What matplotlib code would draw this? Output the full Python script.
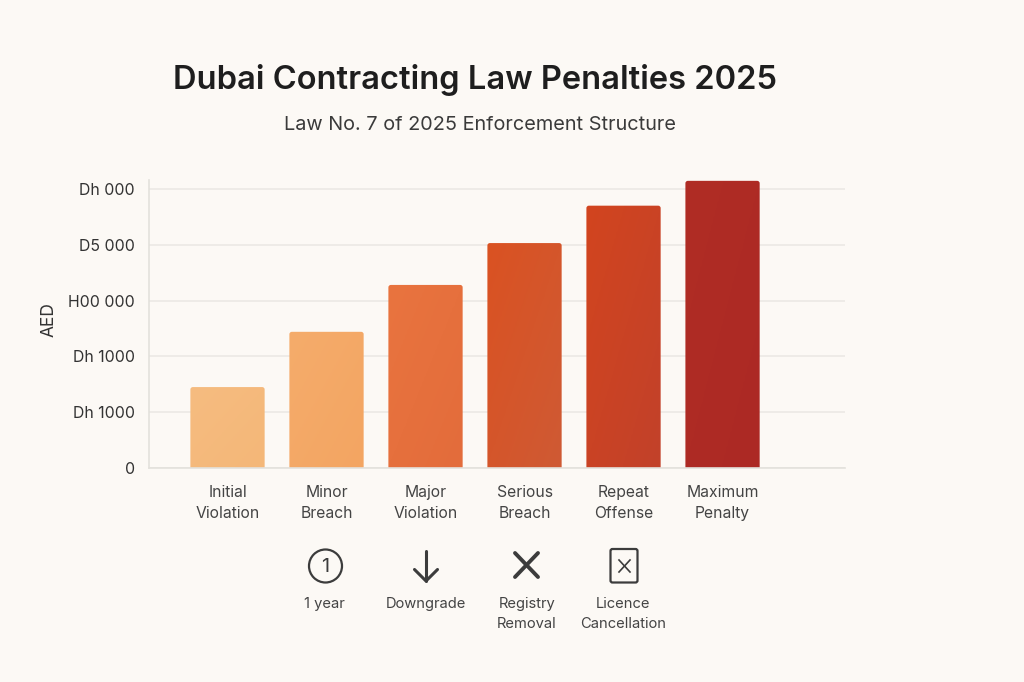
import numpy as np
import matplotlib
matplotlib.use("Agg")
import matplotlib.pyplot as plt
from matplotlib.colors import LinearSegmentedColormap
from matplotlib.patches import Circle, FancyBboxPatch

plt.rcParams["font.family"] = ["Inter", "DejaVu Sans"]

# Data
categories = ["Initial\nViolation", "Minor\nBreach", "Major\nViolation",
              "Serious\nBreach", "Repeat\nOffense", "Maximum\nPenalty"]
penalties = [29000, 48800, 65600, 80600, 94000, 102900]
tick_values = [0, 20000, 40000, 60000, 80000, 100000]
tick_labels = ["0", "Dh 1000", "Dh 1000", "H00 000", "D5 000", "Dh 000"]
bar_colors = [("#F6BC80", "#F4B778"), ("#F5AC6B", "#F3A562"), ("#E9743F", "#E36C3B"),
              ("#DA5222", "#CF5A34"), ("#D2451F", "#C2412A"), ("#B02D25", "#AC2924")]
consequence_labels = ["1 year", "Downgrade", "Registry\nRemoval", "Licence\nCancellation"]

bg = "#FCF9F5"
ink = "#333333"
W, H = 1024, 682

fig = plt.figure(figsize=(W / 100, H / 100), dpi=100, facecolor=bg)

# Chart axes
ax = fig.add_axes([149 / W, 1 - 468 / H, (845 - 149) / W, (468 - 180) / H], facecolor="none")

ax.set_yticks(tick_values)
ax.set_yticklabels(tick_labels, fontsize=11.4, color=ink)
ax.set_xticks(range(len(categories)))
ax.set_xticklabels(categories, fontsize=11.3, color="#444444", linespacing=1.5)
ax.tick_params(axis="both", length=0)
ax.tick_params(axis="y", pad=10)
ax.tick_params(axis="x", pad=12)
ax.grid(axis="y", color="#EAE8E3", linewidth=1.1)
ax.set_axisbelow(True)
for side in ["top", "right"]:
    ax.spines[side].set_visible(False)
for side in ["left", "bottom"]:
    ax.spines[side].set_color("#E3E1DC")
    ax.spines[side].set_linewidth(1.2)
ax.set_ylabel("AED", fontsize=12.5, color=ink)
ax.yaxis.set_label_coords(-0.131, 0.514)

# Bars with rounded tops and a slight colour shift across each one
bar_width = 0.75
units_per_px = 103200 / 288 / (7.03 / 696)
for i, (value, pair) in enumerate(zip(penalties, bar_colors)):
    left = i - bar_width / 2
    box = FancyBboxPatch((left, -8000), bar_width, value + 8000,
                         boxstyle="round,pad=0,rounding_size=0.025",
                         mutation_aspect=units_per_px, linewidth=0, facecolor="none")
    ax.add_patch(box)
    cmap = LinearSegmentedColormap.from_list("bar", pair)
    xx, yy = np.meshgrid(np.linspace(0, 1, 40), np.linspace(0, 1, 40))
    img = ax.imshow((xx + yy) / 2, cmap=cmap, vmin=0, vmax=1, aspect="auto",
                    extent=(left, left + bar_width, 0, value), origin="upper", zorder=2)
    img.set_clip_path(box)
ax.set_xlim(-0.793, 6.237)
ax.set_ylim(0, 103200)

# Overlay in pixel units for headings and the consequence icons
ov = fig.add_axes([0, 0, 1, 1], facecolor="none")
ov.set_xlim(0, W)
ov.set_ylim(H, 0)
ov.axis("off")

ov.text(475, 80, "Dubai Contracting Law Penalties 2025", ha="center", va="center",
        fontsize=23.5, fontweight="semibold", color="#1E1E1E")
ov.text(480, 125, "Law No. 7 of 2025 Enforcement Structure", ha="center", va="center",
        fontsize=14.3, color="#3A3A3A")

icon = "#3C3C3C"
# numbered circle
ov.add_patch(Circle((325.5, 566), 16.5, fill=False, edgecolor=icon, linewidth=1.6))
ov.text(325.5, 566.5, "1", ha="center", va="center", fontsize=14.5, color=icon)
# down arrow
ov.plot([426, 426], [551, 581], color=icon, lw=2.2, solid_capstyle="round")
ov.plot([414.5, 426, 437.5], [569.5, 581, 569.5], color=icon, lw=2.2,
        solid_capstyle="round", solid_joinstyle="round")
# cross
ov.plot([515, 538], [553, 577], color=icon, lw=2.8, solid_capstyle="round")
ov.plot([538, 515], [553, 577], color=icon, lw=2.8, solid_capstyle="round")
# licence card with cross
ov.add_patch(FancyBboxPatch((610.5, 549), 27, 33.5, boxstyle="round,pad=0,rounding_size=2",
                            fill=False, edgecolor=icon, linewidth=1.6))
ov.plot([619, 630], [560, 572], color=icon, lw=1.2)
ov.plot([630, 619], [560, 572], color=icon, lw=1.2)

for x, label in zip([324, 426, 527, 623], consequence_labels):
    ov.text(x, 597, label, ha="center", va="top", fontsize=10.6, color="#444444", linespacing=1.55)

fig.savefig("out.png", dpi=100, facecolor=bg)
